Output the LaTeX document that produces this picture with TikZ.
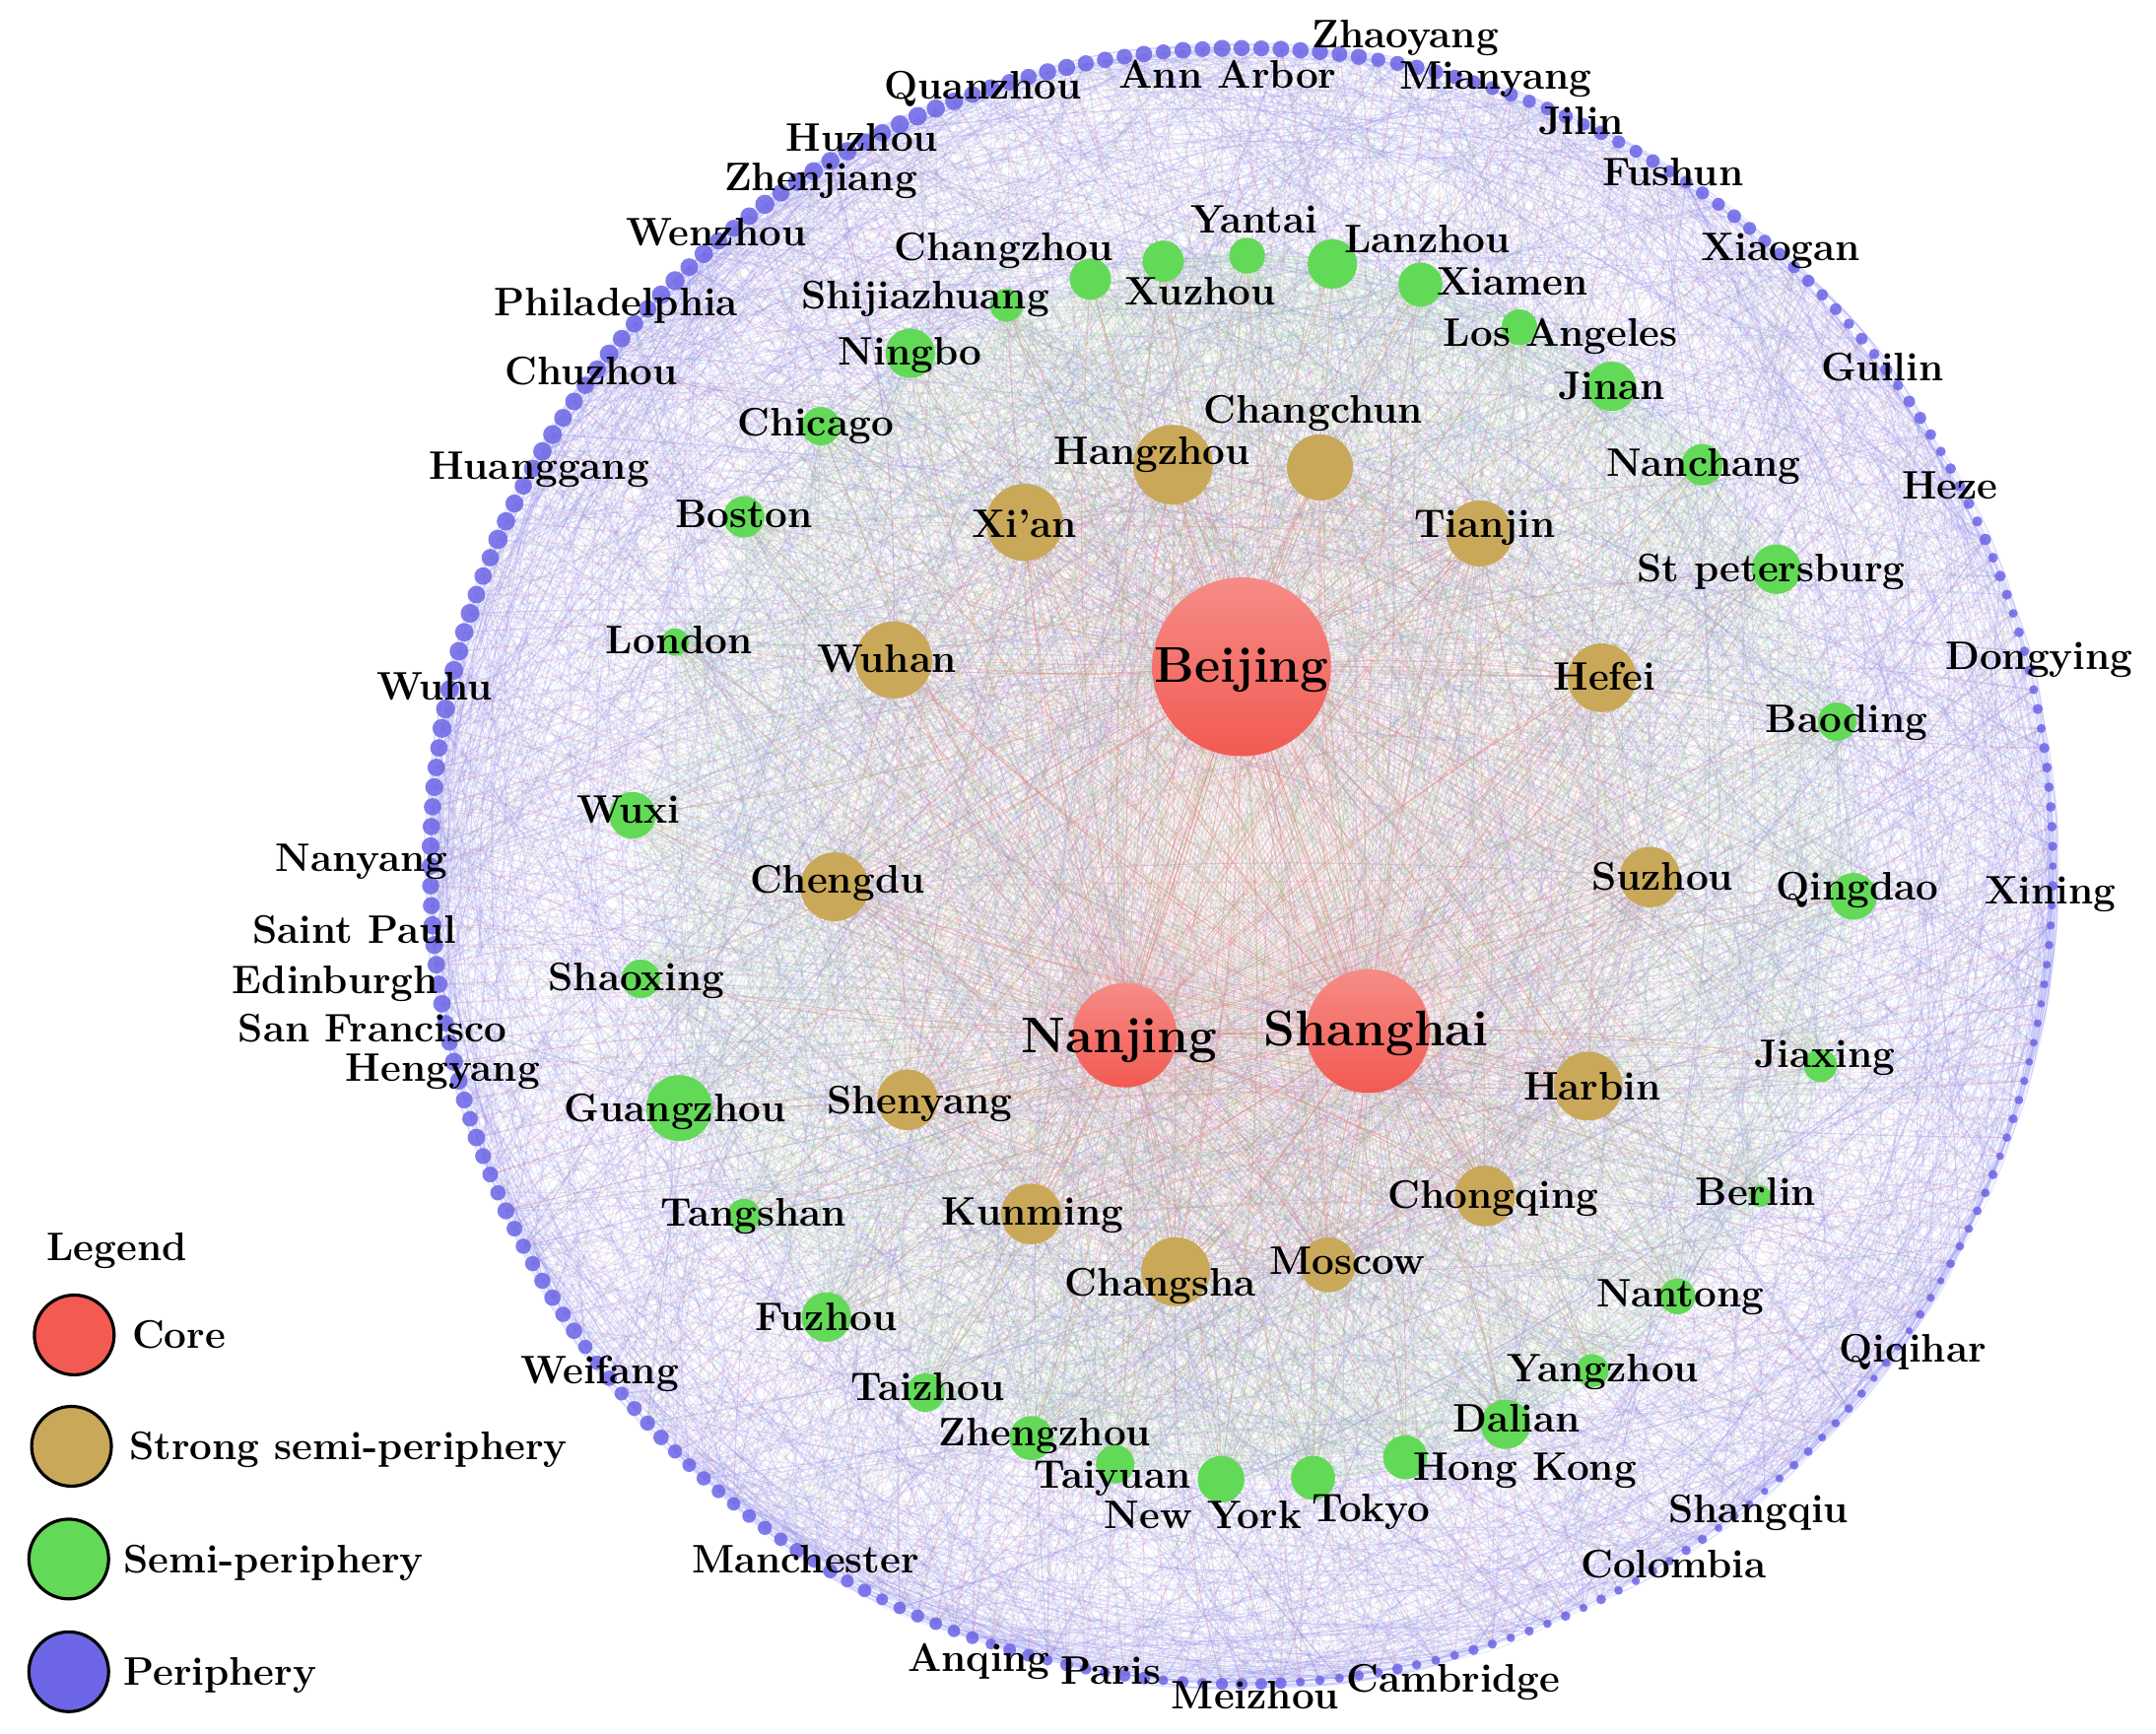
\documentclass[tikz,border=0pt]{standalone}
\usetikzlibrary{positioning}
\definecolor{corered}{HTML}{F25A52}
\definecolor{strongtan}{HTML}{C9A85A}
\definecolor{semigreen}{HTML}{63D958}
\definecolor{periblue}{HTML}{6C66E6}
\definecolor{edgeblue}{HTML}{8A86EE}
\definecolor{edgepink}{HTML}{F27878}
\definecolor{edgegreen}{HTML}{7ED676}
\newcommand\pxu{0.013954cm}
\pgfdeclarelayer{edges}
\pgfsetlayers{edges,main}
\tikzset{
  city/.style={circle,inner sep=0pt,draw=none},
  core/.style={city,top color=corered!70!white,bottom color=corered,shading angle=0},
  strong/.style={city,fill=strongtan},
  semi/.style={city,fill=semigreen},
  peri/.style={city,fill=periblue,fill opacity=0.85},
  lbl/.style={font=\fontsize{11.5}{13}\selectfont\bfseries,inner sep=0pt,text height=7.8pt,text depth=0pt},
  biglbl/.style={lbl,font=\fontsize{14.5}{16}\selectfont\bfseries,text height=9.9pt},
  wire/.style={line width=0.3pt,opacity=0.18},
  legdot/.style={city,draw=black,line width=0.9pt,minimum size=58*\pxu},
}

\begin{document}
\begin{tikzpicture}[x=\pxu,y=-\pxu]
  \useasboundingbox (0,0) rectangle (1568,1261);

  % periphery ring
  \pgfmathsetseed{11}
  \foreach \i in {1,...,260} {
    \pgfmathsetmacro\ang{90+(\i-1)/260*360}
    \pgfmathsetmacro\rad{4.4+1.9*cos(\ang-150)+0.9*rnd}
    \node[peri,minimum size=2*\rad*\pxu] (p\i) at ({903+590*cos(\ang)},{630-595*sin(\ang)}) {};
  }

  % core
  \node[core,minimum size=130*\pxu] (Beijing) at (903,485) {};
  \node[core,minimum size=76*\pxu] (Nanjing) at (818,753) {};
  \node[core,minimum size=90*\pxu] (Shanghai) at (995,750) {};

  % strong semi-periphery
  \foreach \nm/\txt/\x/\y/\r/\lx/\ly [count=\n] in {
      Hangzhou/Hangzhou/853/338/29/838/328, Changchun/Changchun/960/340/24/955/298,
      XiAn/Xi'an/745/380/28/745/381, Tianjin/Tianjin/1076/388/24/1080/381,
      Wuhan/Wuhan/650/480/28/645/479, Hefei/Hefei/1165/493/25/1167/492,
      Chengdu/Chengdu/607/645/25/609/640, Suzhou/Suzhou/1200/638/22/1209/638,
      Harbin/Harbin/1155/790/25/1158/790, Shenyang/Shenyang/660/800/22/669/800,
      Kunming/Kunming/750/883/22/751/881, Chongqing/Chongqing/1080/870/22/1086/869,
      Changsha/Changsha/855/925/25/844/933, Moscow/Moscow/966/920/20/980/917} {
    \node[strong,minimum size=2*\r*\pxu,alias=s\n] (\nm) at (\x,\y) {};
    \node[lbl] (\nm-t) at (\lx,\ly) {\txt};
  }

  % semi-periphery
  \foreach \nm/\txt/\x/\y/\r/\lx/\ly [count=\n] in {
      Changzhou/Changzhou/793/203/15/730/180, Yantai/Yantai/907/186/13/912/160,
      Xuzhou/Xuzhou/846/190/15/873/212, Lanzhou/Lanzhou/969/192/18/1038/174,
      Xiamen/Xiamen/1033/207/16/1100/205, Shijiazhuang/Shijiazhuang/732/222/12/673/215,
      LosAngeles/Los Angeles/1105/238/13/1135/242, Ningbo/Ningbo/662/257/18/662/256,
      Jinan/Jinan/1172/281/18/1172/281, Chicago/Chicago/597/310/14/593/307,
      Nanchang/Nanchang/1238/338/15/1239/337, Boston/Boston/541/376/15/541/374,
      StPetersburg/St petersburg/1292/414/18/1288/413, London/London/491/467/10/494/466,
      Baoding/Baoding/1336/525/14/1343/523, Wuxi/Wuxi/460/593/17/457/589,
      Qingdao/Qingdao/1348/652/17/1351/645, Shaoxing/Shaoxing/466/712/14/463/711,
      Jiaxing/Jiaxing/1324/775/12/1327/767, Guangzhou/Guangzhou/494/806/24/491/806,
      Tangshan/Tangshan/541/884/12/548/882, Berlin/Berlin/1280/870/8/1277/867,
      Nantong/Nantong/1220/943/13/1222/941, Fuzhou/Fuzhou/601/958/18/601/958,
      Yangzhou/Yangzhou/1158/997/12/1166/995, Taizhou/Taizhou/673/1013/14/675/1009,
      Dalian/Dalian/1095/1036/18/1103/1032, Zhengzhou/Zhengzhou/750/1046/16/760/1042,
      HongKong/Hong Kong/1022/1060/16/1109/1067, Taiyuan/Taiyuan/811/1065/14/809/1073,
      NewYork/New York/888/1076/17/875/1102, Tokyo/Tokyo/955/1075/16/997/1097} {
    \node[semi,minimum size=2*\r*\pxu,alias=g\n] (\nm) at (\x,\y) {};
    \node[lbl] (\nm-t) at (\lx,\ly) {\txt};
  }

  % connectors
  \begin{pgfonlayer}{edges}
    \pgfmathsetseed{5}
    \foreach \k in {1,...,1500} {
      \pgfmathtruncatemacro\a{random(1,260)}
      \pgfmathtruncatemacro\b{mod(\a+random(4,130)-1,260)+1}
      \draw[wire,edgeblue] (p\a.center) to[bend right=12] (p\b.center);
    }
    \foreach \c in {Beijing,Shanghai,Nanjing}
      \foreach \i in {1,...,260}
        \draw[wire,edgepink!70!edgeblue,opacity=0.2] (p\i.center) to[bend left=6] (\c.center);
    \foreach \k in {1,...,600} {
      \pgfmathtruncatemacro\a{random(1,260)}
      \pgfmathtruncatemacro\b{random(1,32)}
      \draw[wire,edgeblue!50!edgegreen] (p\a.center) to[bend left=8] (g\b.center);
    }
    \foreach \k in {1,...,400} {
      \pgfmathtruncatemacro\a{random(1,260)}
      \pgfmathtruncatemacro\b{random(1,14)}
      \draw[wire,edgeblue!60!edgepink] (p\a.center) to[bend left=8] (s\b.center);
    }
    \foreach \c in {Beijing,Shanghai,Nanjing} {
      \foreach \j in {1,...,32}
        \draw[wire,edgepink!75!edgegreen,opacity=0.4] (\c.center) to[bend left=6] (g\j.center);
      \foreach \j in {1,...,14}
        \draw[wire,edgepink,opacity=0.4] (\c.center) to[bend left=6] (s\j.center);
    }
    \draw[wire,edgepink,opacity=0.6] (Beijing) -- (Shanghai) -- (Nanjing) -- (Beijing);
    \foreach \a in {1,...,32}
      \foreach \b in {\a,...,32}
        \draw[wire,edgegreen,opacity=0.15] (g\a.center) to[bend left=10] (g\b.center);
    \foreach \a in {1,...,14} {
      \foreach \b in {1,...,32}
        \draw[wire,edgegreen!60!edgepink,opacity=0.15] (s\a.center) to[bend left=10] (g\b.center);
      \foreach \b in {\a,...,14}
        \draw[wire,edgepink,opacity=0.25] (s\a.center) -- (s\b.center);
    }
  \end{pgfonlayer}

  % core labels
  \node[biglbl] (Beijing-t) at (903,484) {Beijing};
  \node[biglbl] (Nanjing-t) at (814,753) {Nanjing};
  \node[biglbl] (Shanghai-t) at (1001,748) {Shanghai};

  % periphery labels
  \foreach \nm/\txt/\x/\y in {
      Zhaoyang/Zhaoyang/1022/25, Quanzhou/Quanzhou/715/62, AnnArbor/Ann Arbor/893/54,
      Mianyang/Mianyang/1088/55, Huzhou/Huzhou/627/100, Jilin/Jilin/1150/88,
      Zhenjiang/Zhenjiang/597/129, Fushun/Fushun/1217/125, Wenzhou/Wenzhou/521/169,
      Xiaogan/Xiaogan/1295/180, Philadelphia/Philadelphia/448/220, Chuzhou/Chuzhou/430/270,
      Guilin/Guilin/1369/267, Huanggang/Huanggang/392/339, Heze/Heze/1418/353,
      Wuhu/Wuhu/316/499, Dongying/Dongying/1483/477, Nanyang/Nanyang/263/624,
      Xining/Xining/1491/648, SaintPaul/Saint Paul/258/676, Edinburgh/Edinburgh/244/713,
      SanFrancisco/San Francisco/271/748, Hengyang/Hengyang/322/777, Weifang/Weifang/436/997,
      Qiqihar/Qiqihar/1391/981, Manchester/Manchester/586/1134, Shangqiu/Shangqiu/1279/1098,
      Colombia/Colombia/1217/1138, Anqing/Anqing/712/1206, Paris/Paris/808/1215,
      Meizhou/Meizhou/913/1233, Cambridge/Cambridge/1057/1221}
    \node[lbl] (\nm) at (\x,\y) {\txt};

  % legend
  \node[lbl] (legend) at (85,907) {Legend};
  \node[legdot,fill=corered] (leg-core) at (54,971) {};
  \node[legdot,fill=strongtan] (leg-strong) at (52,1052) {};
  \node[legdot,fill=semigreen] (leg-semi) at (50,1134) {};
  \node[legdot,fill=periblue] (leg-peri) at (50,1216) {};
  \node[lbl,right=0.16cm of leg-core] (leg-core-t) {Core};
  \node[lbl,right=0.16cm of leg-strong] (leg-strong-t) {Strong semi-periphery};
  \node[lbl,right=0.13cm of leg-semi] (leg-semi-t) {Semi-periphery};
  \node[lbl,right=0.13cm of leg-peri] (leg-peri-t) {Periphery};
\end{tikzpicture}
\end{document}
